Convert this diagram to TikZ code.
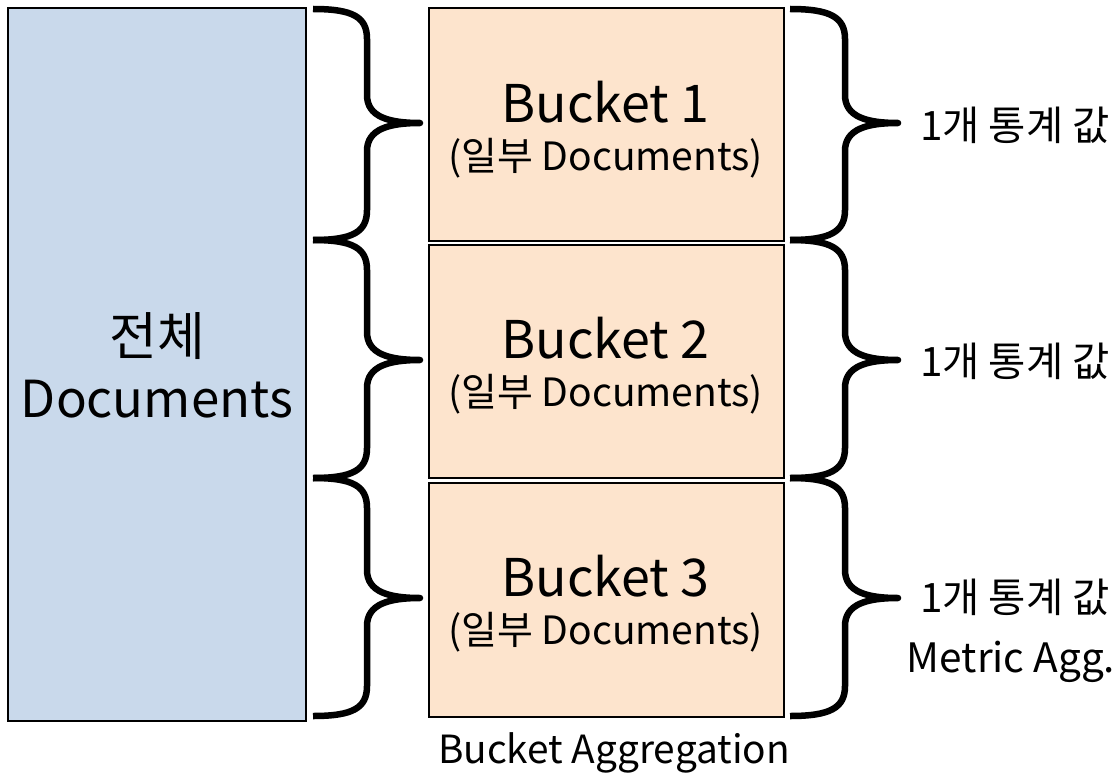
\documentclass[tikz,border=0pt]{standalone}
\usepackage{fontspec}
\setmainfont{Noto Sans CJK KR}
\definecolor{docblue}{HTML}{C9D9EB}
\definecolor{bucketorange}{HTML}{FDE4CD}
\begin{document}
\begin{tikzpicture}[x=1pt,y=-1pt,
  box/.style={draw=black,line width=2pt,inner sep=0pt,anchor=north west},
  brace/.style={draw=black,line width=6.5pt,line cap=butt,line join=round},
  big/.style={font=\fontsize{52}{60}\selectfont,anchor=base,inner sep=0pt},
  mid/.style={font=\fontsize{39}{46}\selectfont,anchor=base,inner sep=0pt},
  lbl/.style={font=\fontsize{40.5}{46}\selectfont,anchor=base,inner sep=0pt}]
\useasboundingbox (0,0) rectangle (1118,781);
\fill[white] (0,0) rectangle (1118,781);
% left box
\node[box,fill=docblue,minimum width=298pt,minimum height=713pt] (all) at (7,7) {};
\node[big] (t1) at (157,355) {전체};
\node[big,font=\fontsize{51}{60}\selectfont] (t2) at (157,417) {Documents};
% buckets
\node[box,fill=bucketorange,minimum width=355pt,minimum height=233pt] (b1) at (428,7) {};
\node[box,fill=bucketorange,minimum width=355pt,minimum height=233pt] (b2) at (428,244) {};
\node[box,fill=bucketorange,minimum width=355pt,minimum height=234pt] (b3) at (428,482) {};
\node[big] (b1a) at (605.5,122) {Bucket 1};
\node[mid] (b1b) at (605.5,170) {(일부 Documents)};
\node[big] (b2a) at (605.5,358) {Bucket 2};
\node[mid] (b2b) at (605.5,406) {(일부 Documents)};
\node[big] (b3a) at (605.5,596) {Bucket 3};
\node[mid] (b3b) at (605.5,644) {(일부 Documents)};
% braces
\foreach \xa/\xv/\xt in {313/367/420, 790/845/898}{
  \foreach \ya/\ym/\yb in {9/123/240, 240/360/478, 478/598/716}{
    \draw[brace] (\xa,\ya) .. controls (\xa+40,\ya) and (\xv,\ya+8) .. (\xv,\ya+30)
      -- (\xv,\ym-28) .. controls (\xv,\ym-6) and (\xv+22,\ym) .. (\xt,\ym)
      .. controls (\xv+22,\ym) and (\xv,\ym+6) .. (\xv,\ym+28)
      -- (\xv,\yb-30) .. controls (\xv,\yb-8) and (\xa+40,\yb) .. (\xa,\yb);
  }
}
% right labels
\node[lbl] (r1) at (1015,140) {1개 통계 값};
\node[lbl] (r2) at (1015,376) {1개 통계 값};
\node[lbl] (r3) at (1015,612) {1개 통계 값};
\node[lbl] (ma) at (1011,672) {Metric Agg.};
\node[lbl,font=\fontsize{38.8}{44}\selectfont] (ba) at (614,763) {Bucket Aggregation};
\end{tikzpicture}
\end{document}
